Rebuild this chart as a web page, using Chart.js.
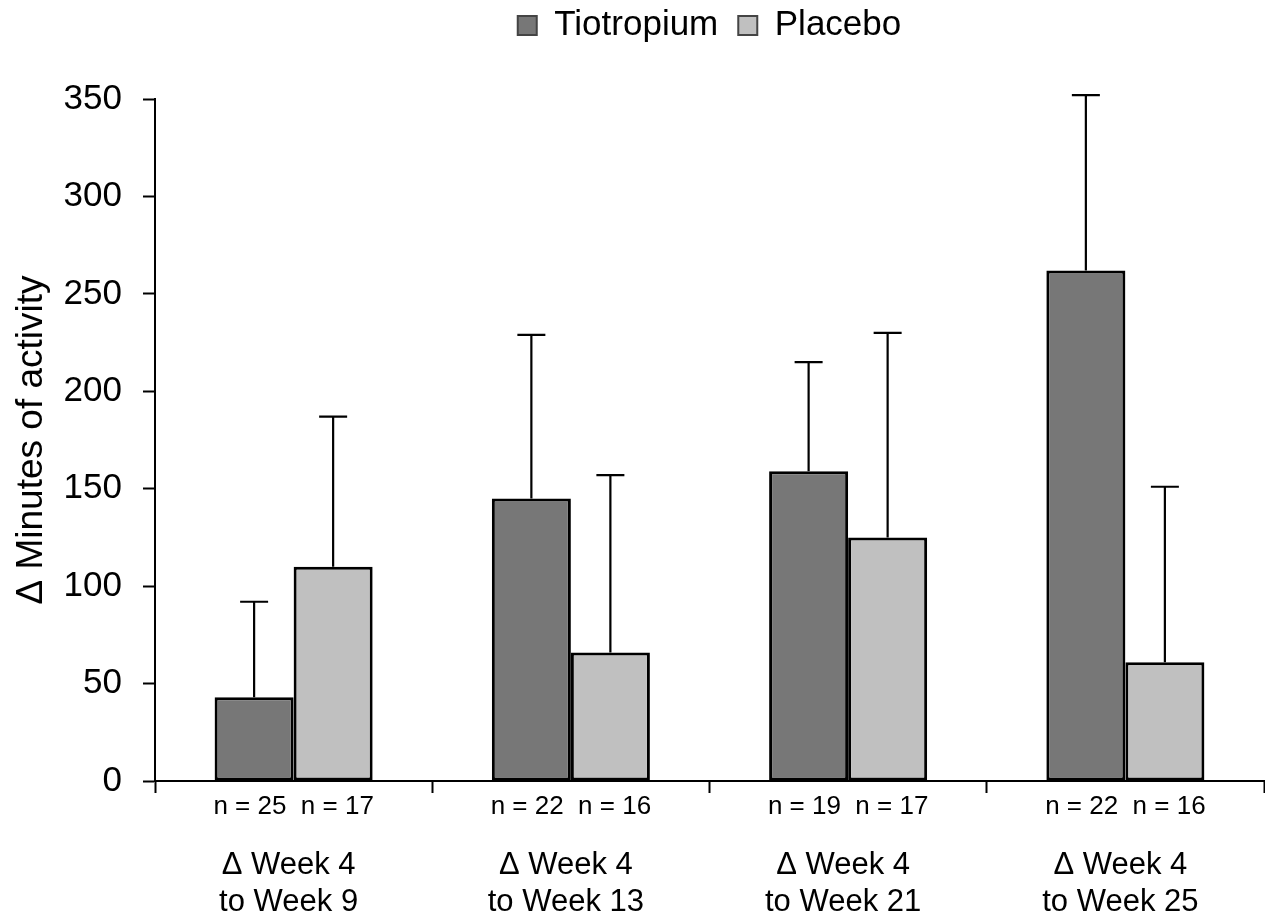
<!DOCTYPE html>
<html>
<head>
<meta charset="utf-8">
<script src="https://cdn.jsdelivr.net/npm/chart.js@4.4.1/dist/chart.umd.min.js"></script>
<style>
  html, body { margin: 0; padding: 0; background: #fff; }
</style>
</head>
<body>
<canvas id="myChart" width="1265" height="914"></canvas>
<script>
// data
const categories = [
    ['Δ Week 4', 'to Week 9'],
    ['Δ Week 4', 'to Week 13'],
    ['Δ Week 4', 'to Week 21'],
    ['Δ Week 4', 'to Week 25']
];
const nLabels = ['n = 25  n = 17', 'n = 22  n = 16', 'n = 19  n = 17', 'n = 22  n = 16'];
const tiotropium = [43, 145, 159, 262];
const placebo = [110, 66, 125, 61];
const tiotropiumUpper = [92, 229, 215, 352];
const placeboUpper = [187, 157, 230, 151];
const yMin = 0, yMax = 350, yStep = 50;

const FONT = "'Liberation Sans', Arial, sans-serif";
Chart.defaults.font.family = FONT;
Chart.defaults.color = '#000';

// upper error bars, positioned from the bar elements and the y scale
const errorBars = {
    id: 'errorBars',
    afterDatasetsDraw(chart) {
        const ctx = chart.ctx;
        const y = chart.scales.y;
        [tiotropiumUpper, placeboUpper].forEach((upper, di) => {
            chart.getDatasetMeta(di).data.forEach((bar, i) => {
                const top = y.getPixelForValue(upper[i]);
                ctx.save();
                ctx.strokeStyle = '#000';
                ctx.lineWidth = 2.2;
                ctx.beginPath();
                ctx.moveTo(bar.x, bar.y);
                ctx.lineTo(bar.x, top);
                ctx.moveTo(bar.x - 14, top);
                ctx.lineTo(bar.x + 14, top);
                ctx.stroke();
                ctx.restore();
            });
        });
    }
};

// put the legend over the plot area and near the top edge
const legendPlace = {
    id: 'legendPlace',
    afterLayout(chart) {
        const l = chart.legend;
        const h = l.height;
        l.left = chart.chartArea.left;
        l.right = chart.chartArea.right;
        l.top = -12;
        l.bottom = l.top + h;
    }
};

const ctx = document.getElementById('myChart');

new Chart(ctx, {
    type: 'bar',
    data: {
        labels: nLabels,
        datasets: [
            {
                label: 'Tiotropium',
                data: tiotropium,
                backgroundColor: '#777777',
                borderColor: '#000',
                borderWidth: 3,
                borderSkipped: false,
                xAxisID: 'x'
            }, {
                label: 'Placebo',
                data: placebo,
                backgroundColor: '#c0c0c0',
                borderColor: '#000',
                borderWidth: 3,
                borderSkipped: false,
                xAxisID: 'x'
            }
        ]
    },
    options: {
        responsive: false,
        animation: false,
        layout: { padding: { top: 34, left: 0, right: 1, bottom: 0 } },
        datasets: { bar: { categoryPercentage: 0.57, barPercentage: 1 } },
        plugins: {
            tooltip: { enabled: false },
            legend: {
                position: 'top',
                labels: {
                    font: { size: 35 },
                    boxWidth: 19,
                    boxHeight: 19,
                    padding: 20,
                    color: '#000',
                    generateLabels(chart) {
                        const items = Chart.defaults.plugins.legend.labels.generateLabels(chart);
                        items.forEach(it => { it.lineWidth = 2; it.strokeStyle = '#444'; });
                        return items;
                    }
                }
            }
        },
        scales: {
            x: {
                type: 'category',
                position: 'bottom',
                weight: 0,
                offset: true,
                grid: {
                    offset: true,
                    drawOnChartArea: false,
                    drawTicks: true,
                    tickLength: 12,
                    tickColor: '#000',
                    tickWidth: 2
                },
                border: { display: true, color: '#000', width: 2 },
                ticks: { font: { size: 26 }, padding: -2, maxRotation: 0, autoSkip: false },
                afterFit(scale) { scale.height = 50; }
            },
            xw: {
                type: 'category',
                labels: categories,
                position: 'bottom',
                weight: 1,
                offset: true,
                grid: { display: false },
                border: { display: false },
                ticks: { font: { size: 31, lineHeight: 1.2 }, padding: 8, labelOffset: -5, maxRotation: 0, autoSkip: false },
                afterFit(scale) { scale.height = 83; }
            },
            y: {
                min: yMin,
                max: yMax,
                ticks: { stepSize: yStep, font: { size: 35 }, padding: 21 },
                grid: {
                    drawOnChartArea: false,
                    tickLength: 12,
                    tickColor: '#000',
                    tickWidth: 2
                },
                border: { display: true, color: '#000', width: 2 },
                title: {
                    display: true,
                    text: 'Δ Minutes of activity',
                    font: { size: 37 },
                    padding: { top: 10, bottom: 0 }
                },
                afterFit(scale) { scale.width = 155; }
            }
        }
    },
    plugins: [errorBars, legendPlace]
});
</script>
</body>
</html>
